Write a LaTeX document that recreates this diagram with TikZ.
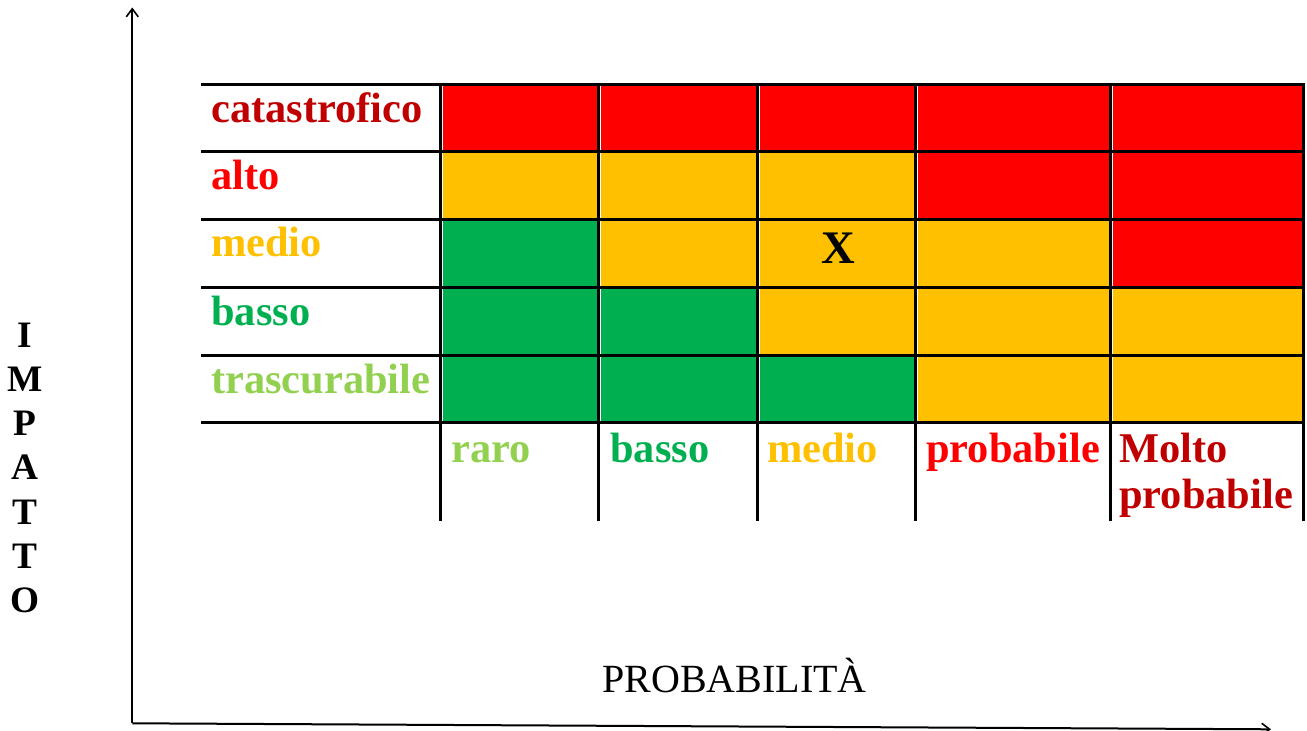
\documentclass[tikz,border=0pt]{standalone}
\usepackage{fontspec}
\setmainfont{Liberation Serif}
\usetikzlibrary{arrows.meta}
\definecolor{darkred}{HTML}{C00000}
\definecolor{rred}{HTML}{FF0000}
\definecolor{gold}{HTML}{FFC000}
\definecolor{ggreen}{HTML}{00B050}
\definecolor{lgreen}{HTML}{92D050}
\begin{document}
\begin{tikzpicture}[x=0.75pt,y=-0.75pt,
  lbl/.style={anchor=base west,inner sep=0pt,font=\fontsize{31.8}{38}\selectfont\bfseries},
  gridline/.style={line width=2.25pt,black},
  sep/.style={line width=0.75pt,white},
  axis/.style={line width=1.5pt,black,-{Straight Barb[length=6pt,width=9pt,line width=1.2pt]}},
  imp/.style={anchor=base,inner sep=0pt,font=\fontsize{28}{30}\selectfont\bfseries}]
\useasboundingbox (0,0) rectangle (1307,731);
% cells
\foreach \ya/\yb/\ca/\cb/\cc/\cd/\ce in {
  85/152/rred/rred/rred/rred/rred,
  152/220/gold/gold/gold/rred/rred,
  220/287/ggreen/gold/gold/gold/rred,
  287/355/ggreen/ggreen/gold/gold/gold,
  355/422/ggreen/ggreen/ggreen/gold/gold}{
  \fill[\ca] (440,\ya) rectangle (598,\yb);
  \fill[\cb] (598,\ya) rectangle (757,\yb);
  \fill[\cc] (757,\ya) rectangle (915,\yb);
  \fill[\cd] (915,\ya) rectangle (1110,\yb);
  \fill[\ce] (1110,\ya) rectangle (1303,\yb);
}
\foreach \x in {440,598,757,915,1110}
  \draw[sep] (\x+2,85) -- (\x+2,422);
% grid lines
\foreach \y in {85,152,220,287,355,422}
  \draw[gridline] (201,\y) -- (1304.5,\y);
\foreach \x in {440,598,757,915,1110,1303}
  \draw[gridline] (\x,83.5) -- (\x,521);
% row labels
\node[lbl,text=darkred] (r1) at (211,123) {catastrofico};
\node[lbl,text=rred] (r2) at (211,190) {alto};
\node[lbl,text=gold] (r3) at (211,257) {medio};
\node[lbl,text=ggreen] (r4) at (211,325) {basso};
\node[lbl,text=lgreen] (r5) at (211,393) {trascurabile};
% column labels
\node[lbl,text=lgreen] (c1) at (451,462) {raro};
\node[lbl,text=ggreen] (c2) at (610,462) {basso};
\node[lbl,text=gold] (c3) at (767,462) {medio};
\node[lbl,text=rred] (c4) at (926,462) {probabile};
\node[lbl,text=darkred] (c5a) at (1119,462) {Molto};
\node[lbl,text=darkred] (c5b) at (1119,508) {probabile};
% marker
\node[inner sep=0pt,font=\fontsize{35}{40}\selectfont\bfseries] (xmark) at (838,248) {X};
% axes
\coordinate (o) at (132.3,723.3);
\coordinate (ytip) at (132.3,7.5);
\coordinate (xtip) at (1271,729.3);
\draw[axis] (o) -- (ytip);
\draw[axis] (o) -- (xtip);
% axis titles
\foreach \l [count=\i] in {I,M,P,A,T,T,O}
  \node[imp] (imp\i) at (25,{347+44.3*(\i-1)}) {\l};
\node[anchor=base,inner sep=0pt,font=\fontsize{30}{34}\selectfont] (prob) at (734.5,692) {PROBABILITÀ};
\end{tikzpicture}
\end{document}
